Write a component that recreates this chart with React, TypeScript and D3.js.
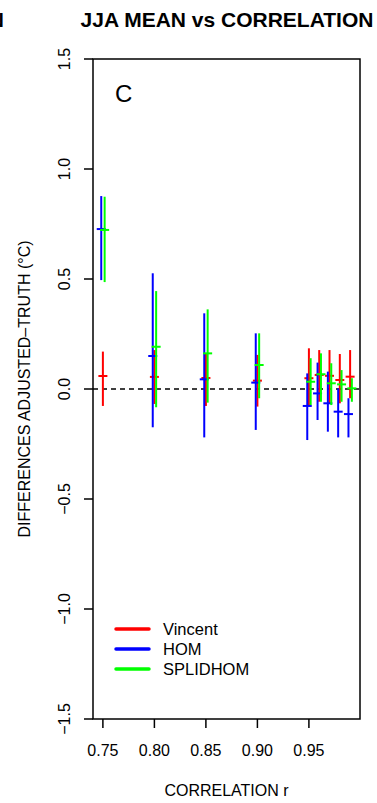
import React from "react";
import * as d3 from "d3";

const correlations = [0.75, 0.8, 0.85, 0.9, 0.95, 0.96, 0.97, 0.98, 0.99];

const vincentMean = [0.059, 0.055, 0.05, 0.038, 0.049, 0.064, 0.06, 0.041, 0.056];
const vincentHigh = [0.17, 0.177, 0.16, 0.155, 0.185, 0.177, 0.177, 0.159, 0.177];
const vincentLow = [-0.077, -0.068, -0.077, -0.08, -0.073, -0.058, -0.065, -0.065, -0.042];

const homMean = [0.727, 0.15, 0.044, 0.029, -0.077, -0.02, -0.065, -0.103, -0.114];
const homHigh = [0.877, 0.526, 0.344, 0.253, 0.071, 0.12, 0.079, 0.003, -0.042];
const homLow = [0.495, -0.174, -0.22, -0.186, -0.232, -0.141, -0.194, -0.22, -0.22];

const splMean = [0.723, 0.192, 0.162, 0.109, 0.033, 0.067, 0.026, 0.021, 0.003];
const splHigh = [0.874, 0.445, 0.362, 0.253, 0.14, 0.162, 0.117, 0.086, 0.049];
const splLow = [0.486, -0.083, -0.062, -0.042, -0.073, -0.058, -0.073, -0.058, -0.058];

const xTicks = [0.75, 0.8, 0.85, 0.9, 0.95];
const yTicks = [-1.5, -1.0, -0.5, 0.0, 0.5, 1.0, 1.5];

const seriesNames = ["Vincent", "HOM", "SPLIDHOM"];
const seriesColors = ["#ff0000", "#0000ff", "#00ff00"];
const seriesOffsets = [0, -0.0016, 0.0017];

const FONT = "'Liberation Sans', Arial, Helvetica, sans-serif";

export default function App() {
  const W = 377;
  const H = 803;
  const left = 93;
  const right = 360;
  const top = 59;
  const bottom = 719;

  const x = d3.scaleLinear().domain([0.7404, 0.9996]).range([left, right]);
  const y = d3.scaleLinear().domain([-1.5, 1.5]).range([bottom, top]);

  const series = [
    { mean: vincentMean, hi: vincentHigh, lo: vincentLow },
    { mean: homMean, hi: homHigh, lo: homLow },
    { mean: splMean, hi: splHigh, lo: splLow },
  ];

  const fmtY = (v: number) => (v < 0 ? "\u2212" + Math.abs(v).toFixed(1) : v.toFixed(1));

  return (
    <svg
      width={W}
      height={H}
      style={{ position: "absolute", left: 0, top: 0, background: "#fff" }}
      fontFamily={FONT}
    >
      <rect x={0} y={0} width={W} height={H} fill="#fff" />
      {/* titles */}
      <text x={227} y={27} fontSize={21} fontWeight="bold" textAnchor="middle" fill="#000">
        JJA MEAN vs CORRELATION
      </text>
      <text x={4} y={27} fontSize={21} fontWeight="bold" textAnchor="end" fill="#000">
        N
      </text>

      {/* zero line */}
      <line
        x1={left}
        x2={right}
        y1={y(0)}
        y2={y(0)}
        stroke="#000"
        strokeWidth={1.5}
        strokeDasharray="5,4"
      />

      {/* error bars */}
      {series.map((s, si) => (
        <g key={si} stroke={seriesColors[si]} strokeWidth={2}>
          {correlations.map((r, i) => {
            const cx = x(r + seriesOffsets[si]);
            return (
              <g key={i}>
                <line x1={cx} x2={cx} y1={y(s.hi[i])} y2={y(s.lo[i])} />
                <line x1={cx - 4.5} x2={cx + 4.5} y1={y(s.mean[i])} y2={y(s.mean[i])} />
              </g>
            );
          })}
        </g>
      ))}

      {/* box */}
      <rect
        x={left}
        y={top}
        width={right - left}
        height={bottom - top}
        fill="none"
        stroke="#000"
        strokeWidth={1.5}
      />

      {/* y axis */}
      {yTicks.map((t) => (
        <g key={t}>
          <line x1={left - 9} x2={left} y1={y(t)} y2={y(t)} stroke="#000" strokeWidth={1.5} />
          <text
            transform={`translate(70,${y(t)}) rotate(-90)`}
            fontSize={16}
            textAnchor="middle"
            fill="#000"
          >
            {fmtY(t)}
          </text>
        </g>
      ))}

      {/* x axis */}
      {xTicks.map((t) => (
        <g key={t}>
          <line x1={x(t)} x2={x(t)} y1={bottom} y2={bottom + 9} stroke="#000" strokeWidth={1.5} />
          <text x={x(t)} y={756} fontSize={16} textAnchor="middle" fill="#000">
            {t.toFixed(2)}
          </text>
        </g>
      ))}

      <text x={(left + right) / 2} y={796} fontSize={16} textAnchor="middle" fill="#000">
        CORRELATION r
      </text>
      <text
        transform={`translate(29.5,${(top + bottom) / 2}) rotate(-90)`}
        fontSize={16}
        textAnchor="middle"
        fill="#000"
      >
        DIFFERENCES ADJUSTED{"\u2013"}TRUTH ({"\u00b0"}C)
      </text>

      {/* panel letter */}
      <text x={115} y={102} fontSize={24} fill="#000">
        C
      </text>

      {/* legend */}
      {seriesNames.map((n, i) => (
        <g key={n}>
          <line
            x1={116}
            x2={149}
            y1={629 + i * 20}
            y2={629 + i * 20}
            stroke={seriesColors[i]}
            strokeWidth={3.5}
            strokeLinecap="round"
          />
          <text x={163} y={629 + i * 20 + 6} fontSize={16.5} fill="#000">
            {n}
          </text>
        </g>
      ))}
    </svg>
  );
}
